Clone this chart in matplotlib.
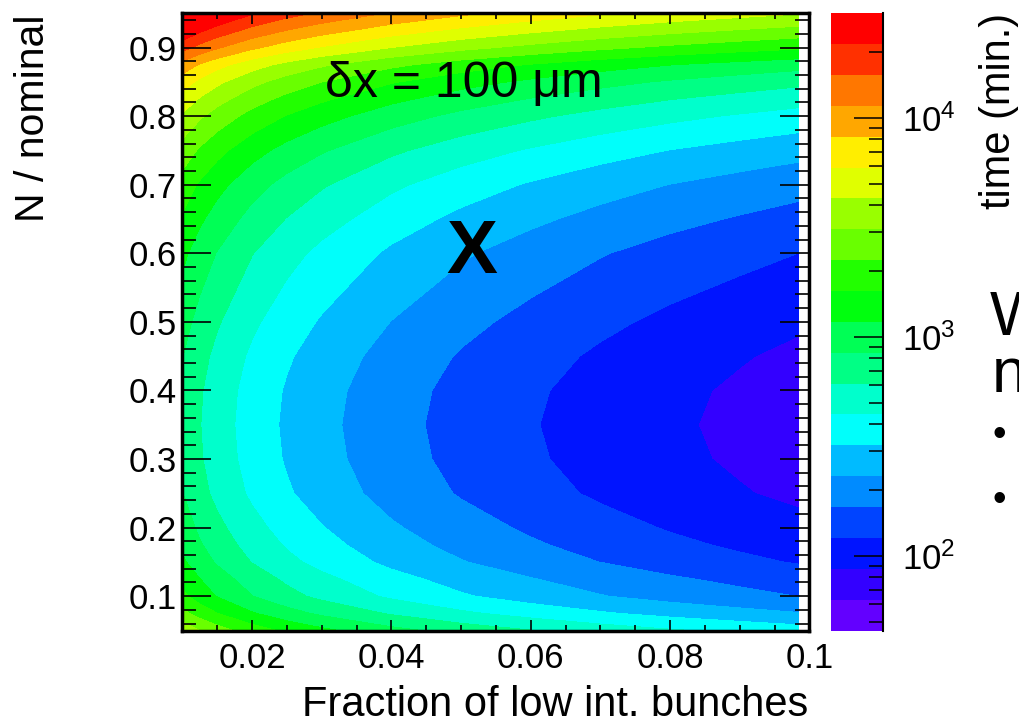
import matplotlib
matplotlib.use("Agg")
import matplotlib.pyplot as plt
import numpy as np
from matplotlib.cm import ScalarMappable
from matplotlib.colors import ListedColormap, LogNorm
from matplotlib.ticker import FuncFormatter, MultipleLocator, NullFormatter

plt.rcParams.update(
    {
        "font.family": ["Liberation Sans", "DejaVu Sans"],
        "mathtext.fontset": "custom",
        "mathtext.rm": "Liberation Sans",
        "mathtext.it": "Liberation Sans:italic",
        "mathtext.bf": "Liberation Sans:bold",
    }
)

W, H = 1019, 723

# fraction of low intensity bunches (x) and N / nominal (y) of the read grid
frac_low = [0.01, 0.0125, 0.015, 0.02, 0.025, 0.03, 0.04, 0.05, 0.06, 0.07, 0.08, 0.09, 0.0985]
n_nominal = [0.05, 0.06, 0.075, 0.1, 0.125, 0.15, 0.175, 0.2, 0.25, 0.3, 0.35, 0.4, 0.45,
             0.5, 0.55, 0.6, 0.65, 0.7, 0.75, 0.8, 0.825, 0.85, 0.875, 0.9, 0.925, 0.95]

log10_time = [
    [3.59, 3.49, 3.41, 3.28, 3.18, 3.10, 2.97, 2.87, 2.79, 2.72, 2.66, 2.61, 2.57],
    [3.51, 3.41, 3.33, 3.20, 3.10, 3.02, 2.89, 2.79, 2.71, 2.64, 2.58, 2.53, 2.49],
    [3.39, 3.29, 3.21, 3.08, 2.98, 2.90, 2.77, 2.67, 2.59, 2.52, 2.46, 2.41, 2.37],
    [3.24, 3.14, 3.06, 2.93, 2.83, 2.75, 2.62, 2.52, 2.44, 2.37, 2.31, 2.26, 2.22],
    [3.17, 3.07, 2.99, 2.86, 2.76, 2.68, 2.55, 2.45, 2.37, 2.30, 2.24, 2.19, 2.15],
    [3.09, 2.99, 2.91, 2.78, 2.68, 2.60, 2.47, 2.37, 2.29, 2.22, 2.16, 2.11, 2.07],
    [3.04, 2.94, 2.86, 2.73, 2.63, 2.55, 2.42, 2.32, 2.24, 2.17, 2.11, 2.06, 2.02],
    [3.00, 2.90, 2.82, 2.69, 2.59, 2.51, 2.38, 2.28, 2.20, 2.13, 2.07, 2.02, 1.98],
    [2.93, 2.83, 2.75, 2.62, 2.52, 2.44, 2.31, 2.21, 2.13, 2.06, 2.00, 1.95, 1.91],
    [2.90, 2.80, 2.72, 2.59, 2.49, 2.41, 2.28, 2.18, 2.10, 2.03, 1.97, 1.92, 1.88],
    [2.89, 2.79, 2.71, 2.58, 2.48, 2.40, 2.27, 2.17, 2.09, 2.02, 1.96, 1.91, 1.87],
    [2.90, 2.80, 2.72, 2.59, 2.49, 2.41, 2.28, 2.18, 2.10, 2.03, 1.97, 1.92, 1.88],
    [2.93, 2.83, 2.75, 2.62, 2.52, 2.44, 2.31, 2.21, 2.13, 2.06, 2.00, 1.95, 1.91],
    [2.98, 2.88, 2.80, 2.67, 2.57, 2.49, 2.36, 2.26, 2.18, 2.11, 2.05, 2.00, 1.96],
    [3.04, 2.94, 2.86, 2.73, 2.63, 2.55, 2.42, 2.32, 2.24, 2.17, 2.11, 2.06, 2.02],
    [3.10, 3.00, 2.92, 2.79, 2.69, 2.61, 2.48, 2.38, 2.30, 2.23, 2.17, 2.12, 2.08],
    [3.19, 3.09, 3.01, 2.88, 2.78, 2.70, 2.57, 2.47, 2.39, 2.32, 2.26, 2.21, 2.17],
    [3.29, 3.19, 3.11, 2.98, 2.88, 2.80, 2.67, 2.57, 2.49, 2.42, 2.36, 2.31, 2.27],
    [3.43, 3.33, 3.25, 3.12, 3.02, 2.94, 2.81, 2.71, 2.63, 2.56, 2.50, 2.45, 2.41],
    [3.61, 3.51, 3.43, 3.30, 3.20, 3.12, 2.99, 2.89, 2.81, 2.74, 2.68, 2.63, 2.59],
    [3.72, 3.62, 3.54, 3.41, 3.31, 3.23, 3.10, 3.00, 2.92, 2.85, 2.79, 2.74, 2.70],
    [3.84, 3.74, 3.66, 3.53, 3.43, 3.35, 3.22, 3.12, 3.04, 2.97, 2.91, 2.86, 2.82],
    [4.00, 3.90, 3.82, 3.69, 3.59, 3.51, 3.38, 3.28, 3.20, 3.13, 3.07, 3.02, 2.98],
    [4.25, 4.15, 4.07, 3.94, 3.84, 3.76, 3.63, 3.53, 3.45, 3.38, 3.32, 3.27, 3.23],
    [4.46, 4.36, 4.28, 4.15, 4.05, 3.97, 3.84, 3.74, 3.66, 3.59, 3.53, 3.48, 3.44],
    [4.66, 4.56, 4.48, 4.35, 4.25, 4.17, 4.04, 3.94, 3.86, 3.79, 3.73, 3.68, 3.64],
]

z_min, z_max = 45.5, 29950.0  # colour bar range, minutes

# ROOT "pretty" palette, 20 contour colours (violet -> red)
palette = [
    "#6300ff", "#3300ff", "#0014ff", "#0044ff", "#008bff",
    "#00bbff", "#00fffb", "#00ffcc", "#00ff85", "#00ff55",
    "#00ff0e", "#22ff00", "#69ff00", "#99ff00", "#e0ff00",
    "#ffee00", "#ffa700", "#ff7700", "#ff3000", "#ff0000",
]


def box(x0, y0, x1, y1):
    return [x0 / W, 1 - y1 / H, (x1 - x0) / W, (y1 - y0) / H]


fig = plt.figure(figsize=(W / 100, H / 100), dpi=100)
ax = fig.add_axes(box(182.4, 13.3, 809.4, 630.5))
cax = fig.add_axes(box(831, 13.3, 883, 630.5))

edges = list(np.linspace(np.log10(z_min), np.log10(z_max), len(palette) + 1))
levels = edges + [float(np.max(log10_time)) + 1.0]
ax.contourf(frac_low, n_nominal, log10_time, levels=levels,
            colors=palette + [palette[-1]], antialiased=False)

ax.set_xlim(0.01, 0.1)
ax.set_ylim(0.05, 0.95)
ax.xaxis.set_major_locator(MultipleLocator(0.02))
ax.xaxis.set_minor_locator(MultipleLocator(0.005))
ax.yaxis.set_major_locator(MultipleLocator(0.1))
ax.yaxis.set_minor_locator(MultipleLocator(0.02))
ax.xaxis.set_major_formatter(FuncFormatter(lambda v, p: f"{v:g}"))
ax.yaxis.set_major_formatter(FuncFormatter(lambda v, p: f"{v:.1f}"))
ax.tick_params(axis="both", which="both", direction="in", top=True, right=True,
               width=1.2, labelsize=25, color="black")
ax.tick_params(axis="x", which="major", length=8, pad=8)
ax.tick_params(axis="x", which="minor", length=4)
ax.tick_params(axis="y", which="major", length=21, pad=4)
ax.tick_params(axis="y", which="minor", length=10)
for s in ax.spines.values():
    s.set_linewidth(2.5)

sm = ScalarMappable(norm=LogNorm(z_min, z_max), cmap=ListedColormap(palette))
cb = fig.colorbar(sm, cax=cax)
cb.outline.set_visible(False)
cax.spines["right"].set_visible(True)
cax.spines["right"].set_linewidth(1.5)
cb.minorticks_on()
cax.yaxis.set_minor_formatter(NullFormatter())
cax.tick_params(which="both", direction="in", right=True, left=False,
                labelsize=25, width=1.1, pad=14)
cax.tick_params(which="major", length=21)
cax.tick_params(which="minor", length=10)

# labels and annotations (pixel positions of the slide)
fig.text(808 / W, 1 - 716 / H, "Fraction of low int. bunches", ha="right",
         va="baseline", fontsize=30)
fig.text(33 / W, 1 - 14 / H, "N / nominal", rotation=90, ha="center", va="top",
         fontsize=29.5)
fig.text(999 / W, 1 - 13 / H, "time (min.)", rotation=90, ha="center", va="top",
         fontsize=30)
fig.text(325 / W, 1 - 97 / H, "δx = 100 μm", ha="left", va="baseline", fontsize=36)
fig.text(472 / W, 1 - 273 / H, "X", ha="center", va="baseline", fontsize=55,
         fontweight="bold")

# slide text cut off at the right edge
fig.text(990 / W, 1 - 335 / H, "W", ha="left", va="baseline", fontsize=45)
fig.text(992 / W, 1 - 392 / H, "n", ha="left", va="baseline", fontsize=45)
for yb in (446, 511):
    fig.text(992 / W, 1 - yb / H, "•", ha="left", va="baseline", fontsize=28)

fig.savefig("out.png", dpi=100)
